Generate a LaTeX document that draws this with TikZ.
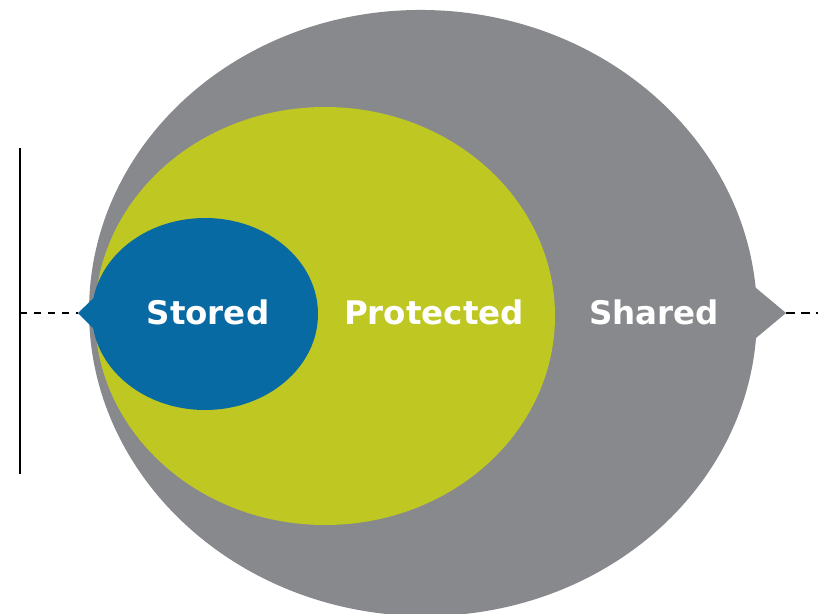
\documentclass[tikz,border=0pt]{standalone}
\usepackage{fontspec}
\newfontfamily\zonefont{DejaVu Sans}
\definecolor{sharedgray}{RGB}{136,137,141}
\definecolor{protectedgreen}{RGB}{191,199,34}
\definecolor{storedblue}{RGB}{8,106,162}
\begin{document}
\begin{tikzpicture}[x=1pt, y=-1pt, every node/.style={text=white, font=\zonefont\bfseries\fontsize{32.5}{39}\selectfont, inner sep=0pt}, guide/.style={line width=2pt, black}]
\useasboundingbox (0,0) rectangle (818,613);

\fill[sharedgray, rotate around={-2:(423,313)}] (423,313) ellipse [x radius=334pt, y radius=303pt];
\fill[sharedgray] (750,283) -- (786,313) -- (750,343) -- cycle;
\fill[protectedgreen] (325,316) ellipse [x radius=230pt, y radius=209pt];
\fill[storedblue] (205,314) ellipse [x radius=113pt, y radius=96pt];
\fill[storedblue] (103,289) -- (78,313) -- (103,338) -- cycle;

\coordinate (stored tip) at (78,313);
\coordinate (shared tip) at (786,313);
\coordinate (axis top) at (20,148);
\coordinate (axis bottom) at (20,474);
\coordinate (axis mid) at (20,313);
\coordinate (right end) at (818,313);

\draw[guide] (axis top) -- (axis bottom);
\draw[guide, dash pattern=on 7pt off 7pt] (axis mid) -- (stored tip);
\draw[guide, dash pattern=on 9pt off 6pt] (shared tip) -- (right end);

\node (stored) at (208,312) {Stored};
\node (protected) at (434,312) {Protected};
\node (shared) at (654,312) {Shared};
\end{tikzpicture}
\end{document}
